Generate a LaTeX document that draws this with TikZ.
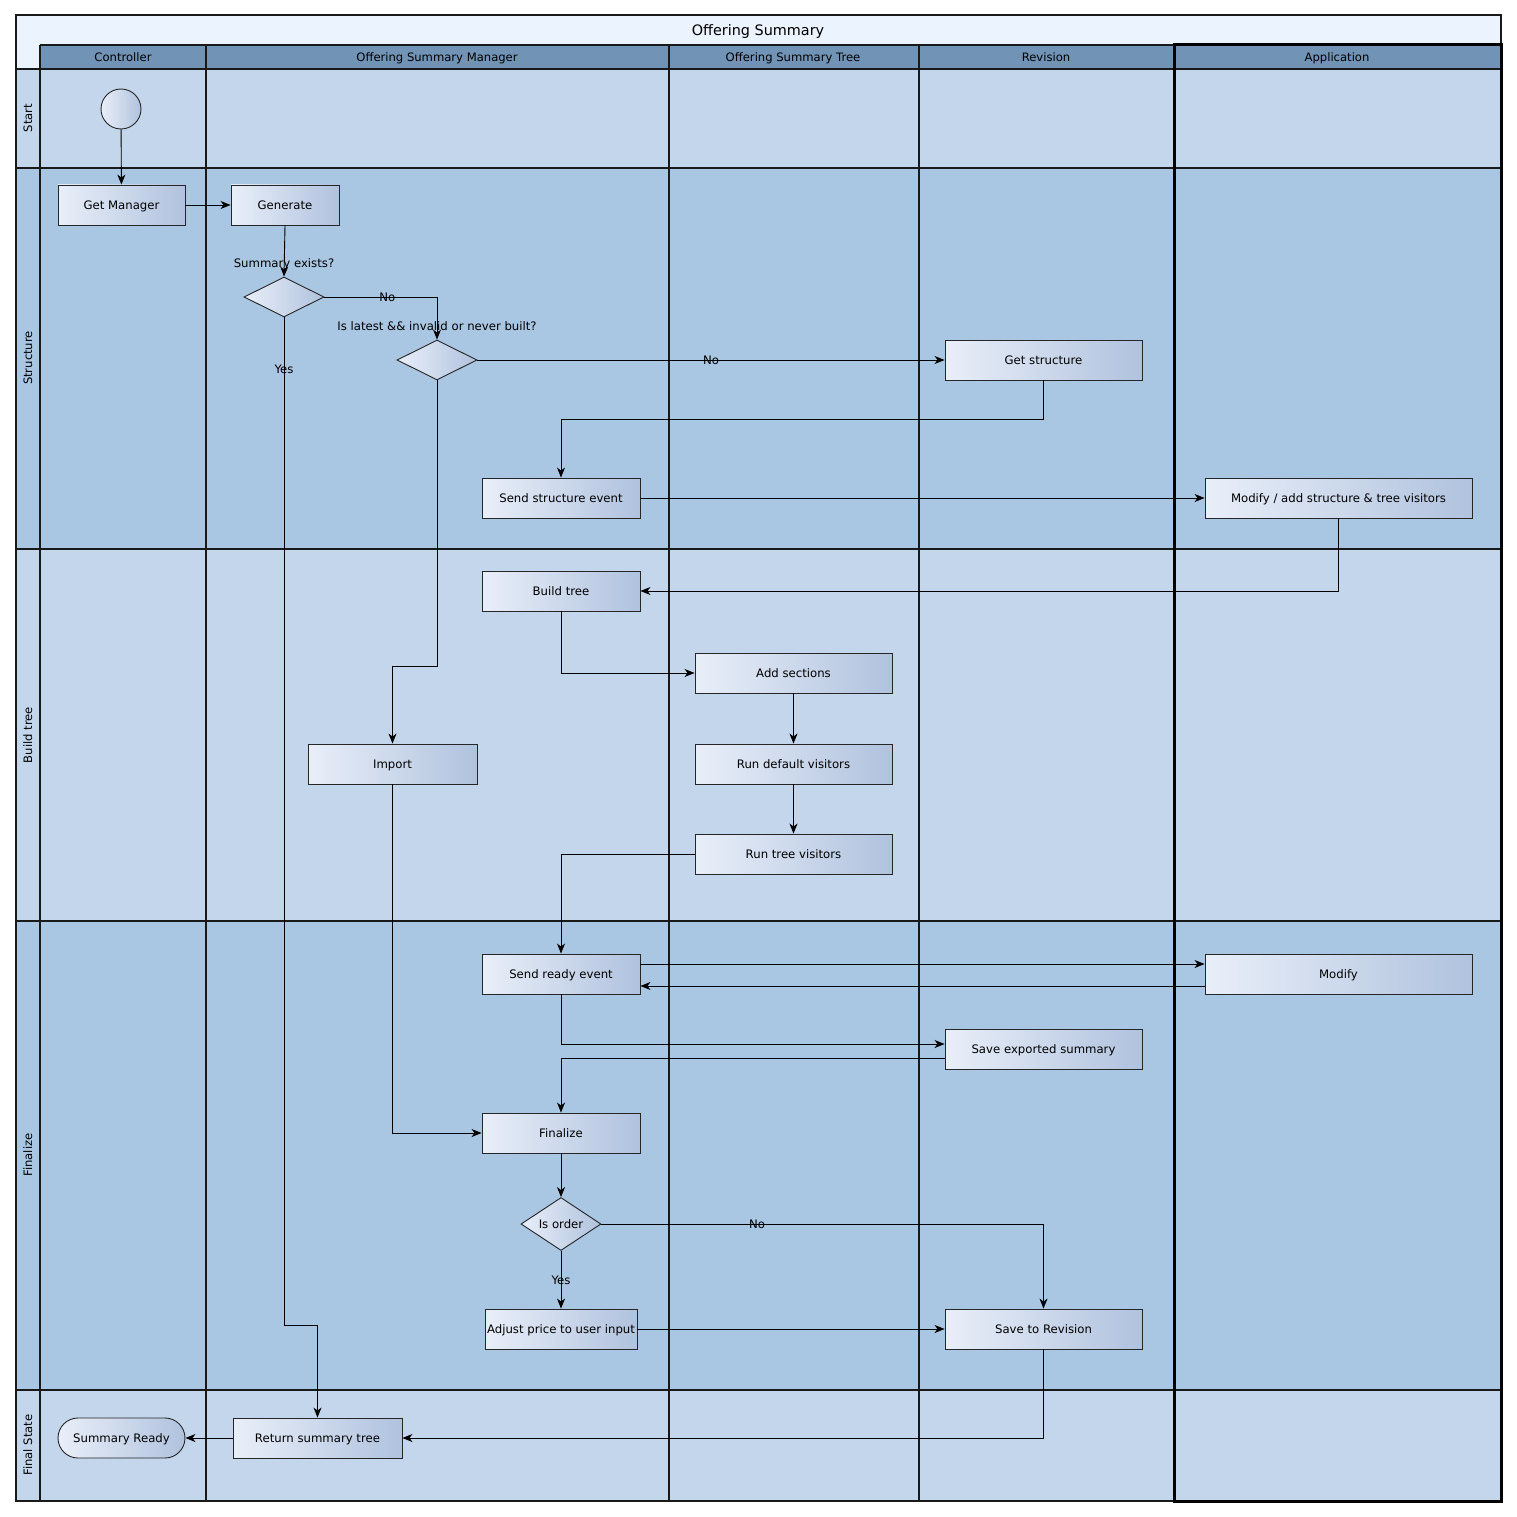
\documentclass[tikz,border=0pt]{standalone}
\usepackage{fontspec}
\setmainfont{DejaVu Sans}
\usetikzlibrary{arrows.meta,shapes.geometric}
\definecolor{rowA}{HTML}{C4D6EB}
\definecolor{rowB}{HTML}{A9C6E2}
\definecolor{hdr}{HTML}{7193B5}
\definecolor{ttl}{HTML}{EBF3FE}
\definecolor{nL}{HTML}{E9EFF9}
\definecolor{nR}{HTML}{B0C2DE}
\begin{document}
\begin{tikzpicture}[x=1pt,y=-1pt,
  txt/.style={font=\fontsize{11.7}{14}\selectfont},
  box/.style={txt, draw=black!85, line width=0.9pt, left color=nL, right color=nR, minimum height=40pt, inner sep=0pt, text height=8.5pt, text depth=0pt},
  dec/.style={txt, diamond, draw=black!85, line width=0.9pt, left color=nL, right color=nR, minimum width=80pt, minimum height=40pt, inner sep=0pt, text height=8.5pt, text depth=0pt},
  arr/.style={draw=black, line width=0.9pt, -{Stealth[length=10pt,width=8pt,inset=3pt]}},
  elab/.style={txt, inner sep=0pt, text height=8.5pt, text depth=0pt},
  lane/.style={draw=black!90, line width=1.1pt},
  hdrtxt/.style={font=\fontsize{11.6}{13}\selectfont, inner sep=0pt, text height=8.4pt, text depth=0pt},
  rowtxt/.style={font=\fontsize{11.6}{13}\selectfont, inner sep=0pt, rotate=90, text height=8.4pt, text depth=0pt}]
\useasboundingbox (0,0) rectangle (1516,1517);
\fill[white] (0,0) rectangle (1516,1517);
% backgrounds
\fill[ttl] (16,15) rectangle (1501,69);
\fill[hdr] (40,45) rectangle (1501,69);
\fill[rowA] (16,69) rectangle (1501,168);
\fill[rowB] (16,168) rectangle (1501,549);
\fill[rowA] (16,549) rectangle (1501,921);
\fill[rowB] (16,921) rectangle (1501,1390);
\fill[rowA] (16,1390) rectangle (1501,1501);
% lane lines
\draw[lane] (16,15) rectangle (1501,1501);
\draw[lane] (40,45) -- (1501,45);
\foreach \y in {69,168,549,921,1390} \draw[lane] (16,\y) -- (1501,\y);
\foreach \x in {40,206,669,919,1174} \draw[lane] (\x,45) -- (\x,1501);
\draw[line width=3pt] (1174,45) rectangle (1501,1501);
% titles
\node[font=\fontsize{14.4}{16}\selectfont, inner sep=0pt, text height=10.4pt, text depth=0pt] (title) at (758,30) {Offering Summary};
\node[hdrtxt] (h1) at (123,57) {Controller};
\node[hdrtxt] (h2) at (437,57) {Offering Summary Manager};
\node[hdrtxt] (h3) at (793,57) {Offering Summary Tree};
\node[hdrtxt] (h4) at (1046,57) {Revision};
\node[hdrtxt] (h5) at (1337,57) {Application};
\node[rowtxt] (r1) at (28,118) {Start};
\node[rowtxt] (r2) at (28,358) {Structure};
\node[rowtxt] (r3) at (28,735) {Build tree};
\node[rowtxt] (r4) at (28,1155) {Finalize};
\node[rowtxt] (r5) at (28,1445) {Final State};
% nodes
\node[circle, draw=black!85, line width=0.9pt, left color=nL, right color=nR, minimum size=40pt, inner sep=0pt] (start) at (121,109) {};
\node[box, minimum width=127pt] (gm) at (121.5,205) {Get Manager};
\node[box, minimum width=108pt] (gen) at (285,205) {Generate};
\node[dec, label={[txt, inner sep=0pt, text height=8.5pt, text depth=0pt, label distance=9pt]above:Summary exists?}] (d1) at (284,297) {};
\node[dec, label={[txt, inner sep=0pt, text height=8.5pt, text depth=0pt, label distance=9pt]above:Is latest \&\& invalid or never built?}] (d2) at (437,360) {};
\node[box, minimum width=197pt] (gs) at (1043.5,360) {Get structure};
\node[box, minimum width=158pt] (sse) at (561,498) {Send structure event};
\node[box, minimum width=267pt] (mod1) at (1338.5,498) {Modify / add structure \& tree visitors};
\node[box, minimum width=158pt] (bt) at (561,591) {Build tree};
\node[box, minimum width=197pt] (as) at (793.5,673) {Add sections};
\node[box, minimum width=197pt] (rdv) at (793.5,764) {Run default visitors};
\node[box, minimum width=197pt] (rtv) at (793.5,854) {Run tree visitors};
\node[box, minimum width=169pt] (imp) at (392.5,764) {Import};
\node[box, minimum width=158pt] (sre) at (561,974) {Send ready event};
\node[box, minimum width=267pt] (mod2) at (1338.5,974) {Modify};
\node[box, minimum width=197pt] (ses) at (1043.5,1049) {Save exported summary};
\node[box, minimum width=158pt] (fin) at (561,1133) {Finalize};
\node[dec] (d3) at (561,1224) {Is order};
\node[box, minimum width=152pt] (adj) at (561,1329) {Adjust price to user input};
\node[box, minimum width=197pt] (str) at (1043.5,1329) {Save to Revision};
\node[box, minimum width=127pt, rounded corners=20pt] (sr) at (121.5,1438) {Summary Ready};
\node[box, minimum width=169pt] (ret) at (317.5,1438) {Return summary tree};
% connectors
\draw[arr] (start) -- (gm);
\draw[arr] (gm) -- (gen);
\draw[arr] (gen.south) -- (d1.north);
\draw[arr] (d1.east) -| node[elab, pos=0.279] (lno1) {No} (d2.north);
\coordinate (c1) at (284,1325);
\draw[arr] (d1.south) -- node[elab, pos=0.0516] (lyes1) {Yes} (c1) -| (ret.north);
\draw[arr] (d2.east) -- node[elab, midway] (lno2) {No} (gs.west);
\coordinate (c2) at (437,666);
\draw[arr] (d2.south) -- (c2) -| (imp.north);
\coordinate (c3) at (1043.5,419);
\draw[arr] (gs.south) -- (c3) -| (sse.north);
\draw[arr] (sse.east) -- (mod1.west);
\draw[arr] (mod1.south) |- (bt.east);
\draw[arr] (bt.south) |- (as.west);
\draw[arr] (as) -- (rdv);
\draw[arr] (rdv) -- (rtv);
\draw[arr] (rtv.west) -| (sre.north);
\draw[arr] ([yshift=10pt]sre.east) -- ([yshift=10pt]mod2.west);
\draw[arr] ([yshift=-12pt]mod2.west) -- ([yshift=-12pt]sre.east);
\draw[arr] (sre.south) |- ([yshift=5pt]ses.west);
\draw[arr] ([yshift=-9pt]ses.west) -| (fin.north);
\draw[arr] (imp.south) |- (fin.west);
\draw[arr] (fin) -- (d3);
\draw[arr] (d3.east) -| node[elab, pos=0.176] (lno3) {No} (str.north);
\draw[arr] (d3.south) -- node[elab, midway] (lyes2) {Yes} (adj.north);
\draw[arr] (adj.east) -- (str.west);
\draw[arr] (str.south) |- (ret.east);
\draw[arr] (ret.west) -- (sr.east);
\end{tikzpicture}
\end{document}
